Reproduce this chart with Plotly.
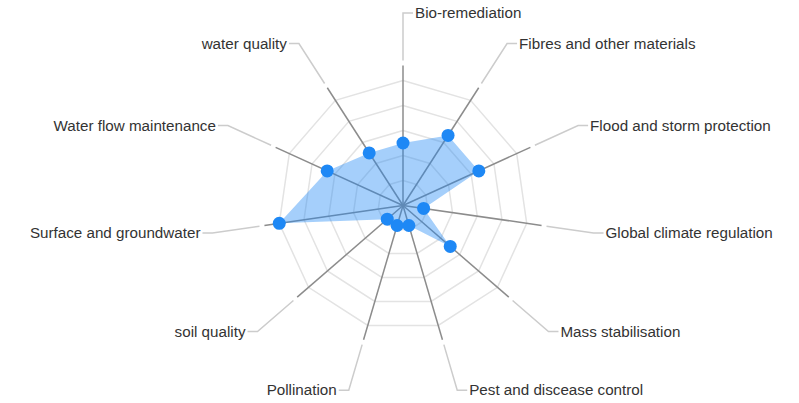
import numpy as np
import plotly.graph_objects as go

categories = ["Bio-remediation", "Fibres and other materials", "Flood and storm protection",
              "Global climate regulation", "Mass stabilisation", "Pest and discease control",
              "Pollination", "soil quality", "Surface and groundwater",
              "Water flow maintenance", "water quality"]
values = [3, 4, 4, 1, 3, 1, 1, 1, 6, 4, 3]
ring_values = [1.2, 2.4, 3.6, 4.8, 6.0]

W, H = 799, 403
cx, cy = 403, 205.5                           # radar centre in figure pixels
R_px = 125.0                                  # pixel radius of outer ring
vmax = 6.0
ppu = R_px / vmax                             # pixels per data unit
half = float(min(cx, cy, W - cx, H - cy))     # half size of polar domain
rmax_range = half / ppu

n = len(categories)
angles = np.arange(n) * 360.0 / n

spoke_end = 140 / ppu
lead_start = 145 / ppu
lead_end = 192.5 / ppu
elbow = 10 / ppu

fig = go.Figure()

# grid rings
for rv in ring_values:
    fig.add_trace(go.Scatterpolar(
        r=[rv] * (n + 1), theta=list(angles) + [angles[0]], mode="lines",
        line=dict(color="#e3e3e3", width=1.5), hoverinfo="skip", showlegend=False))

# spokes
for a in angles:
    fig.add_trace(go.Scatterpolar(
        r=[0, spoke_end], theta=[a, a], mode="lines",
        line=dict(color="#8c8c8c", width=1.5), hoverinfo="skip", showlegend=False))

# data
fig.add_trace(go.Scatterpolar(
    r=values + [values[0]], theta=list(angles) + [angles[0]], mode="lines",
    fill="toself", fillcolor="rgba(30,136,245,0.4)", line=dict(width=0, color="rgba(0,0,0,0)"),
    hoverinfo="skip", showlegend=False))
fig.add_trace(go.Scatterpolar(
    r=values, theta=list(angles), mode="markers",
    marker=dict(color="#1e88f5", size=13), cliponaxis=False,
    showlegend=False, name="", hovertext=categories))

# leader lines and labels (cartesian overlay in the same data units)
lab_x, lab_y, lab_pos = [], [], []
for a in angles:
    rad = np.deg2rad(a)
    dx, dy = np.sin(rad), np.cos(rad)
    sign = 1 if dx >= -1e-9 else -1
    ex, ey = lead_end * dx, lead_end * dy
    fx = ex + sign * elbow
    fig.add_trace(go.Scatter(
        x=[lead_start * dx, ex, fx], y=[lead_start * dy, ey, ey], mode="lines",
        line=dict(color="#cccccc", width=1.5), hoverinfo="skip", showlegend=False))
    lab_x.append(fx + sign * 2 / ppu)
    lab_y.append(ey - 1.5 / ppu)
    lab_pos.append("middle right" if sign > 0 else "middle left")

fig.add_trace(go.Scatter(
    x=lab_x, y=lab_y, mode="text", text=categories, textposition=lab_pos,
    textfont=dict(family="Liberation Sans, Arial, sans-serif", size=15.2, color="#333333"),
    cliponaxis=False, hoverinfo="skip", showlegend=False))

fig.update_layout(
    width=W, height=H, margin=dict(l=0, r=0, t=0, b=0),
    paper_bgcolor="white", plot_bgcolor="rgba(0,0,0,0)",
    xaxis=dict(visible=False, range=[-cx / ppu, (W - cx) / ppu], domain=[0, 1]),
    yaxis=dict(visible=False, range=[-(H - cy) / ppu, cy / ppu], domain=[0, 1]),
    polar=dict(
        domain=dict(x=[(cx - half) / W, (cx + half) / W],
                    y=[(H - cy - half) / H, (H - cy + half) / H]),
        bgcolor="rgba(0,0,0,0)",
        radialaxis=dict(visible=False, range=[0, rmax_range]),
        angularaxis=dict(visible=False, rotation=90, direction="clockwise",
                         showgrid=False, showline=False, showticklabels=False, ticks=""),
    ),
)

fig.write_html("out.html", config={"displayModeBar": False},
               post_script="document.body.style.margin='0';")
